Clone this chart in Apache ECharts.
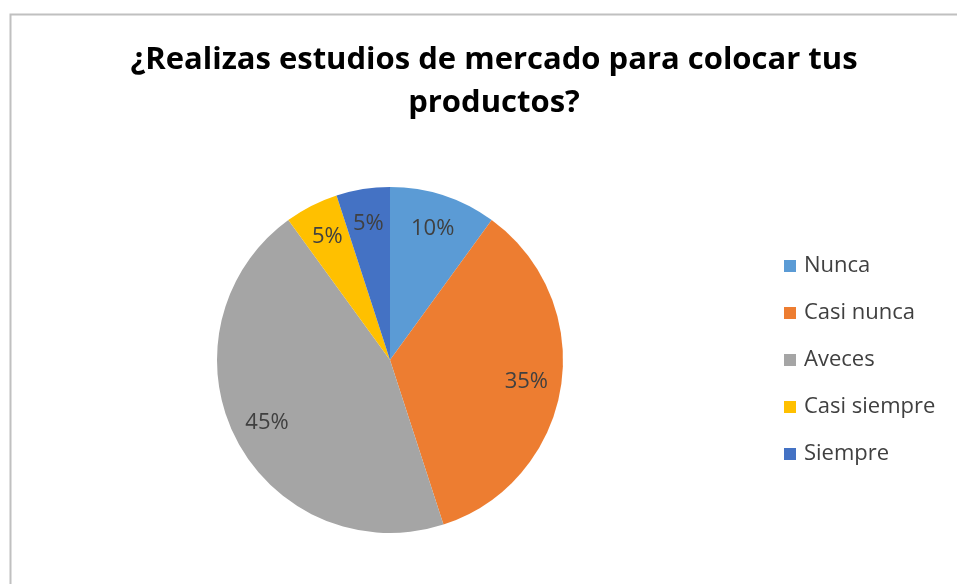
<!DOCTYPE html>
<html>
<head>
<meta charset="utf-8">
<script src="https://cdn.jsdelivr.net/npm/echarts@6/dist/echarts.min.js"></script>
<style>html,body{margin:0;padding:0;background:#fff;}#c{width:957px;height:584px;}</style>
</head>
<body>
<div id="c"></div>
<script>
const titleText = "¿Realizas estudios de mercado para colocar tus\nproductos?";
const categories = ["Nunca", "Casi nunca", "Aveces", "Casi siempre", "Siempre"];
const values = [10, 35, 45, 5, 5];
const colors = ["#5B9BD5", "#ED7D31", "#A5A5A5", "#FFC000", "#4472C4"];

const data = categories.map((c, i) => ({ name: c, value: values[i] }));
const chart = echarts.init(document.getElementById('c'));
chart.setOption({
  animation: false,
  backgroundColor: '#fff',
  color: colors,
  graphic: [{
    type: 'rect', left: 8, top: 12,
    shape: { width: 960, height: 600 },
    style: { fill: 'none', stroke: '#c0c0c0', lineWidth: 2 }, silent: true
  }],
  title: {
    text: titleText, left: 489, textAlign: 'center', top: 34,
    textStyle: { fontFamily: 'Open Sans', fontWeight: 'bold', fontSize: 31, color: '#000', lineHeight: 43 }
  },
  legend: {
    orient: 'vertical', left: 779, top: 250,
    itemWidth: 12, itemHeight: 12, itemGap: 25, icon: 'rect',
    textStyle: { fontFamily: 'Open Sans', fontSize: 22, color: '#404040', padding: [0,0,0,3] },
    data: categories
  },
  series: [{
    type: 'pie', center: [390, 360], radius: 173, startAngle: 90, clockwise: true,
    data: data, label: { show: false }, labelLine: { show: false },
    itemStyle: { borderColor: '#fff', borderWidth: 0 }, silent: true
  }, {
    type: 'pie', center: [390, 360], radius: [97, 173], startAngle: 90, clockwise: true,
    data: data, silent: true, legendHoverLink: false,
    itemStyle: { color: 'rgba(0,0,0,0)' },
    label: { show: true, position: 'inside', formatter: '{d}%', fontFamily: 'Open Sans', fontSize: 22, color: '#404040' },
    labelLine: { show: false }
  }]
});
</script>
</body>
</html>
